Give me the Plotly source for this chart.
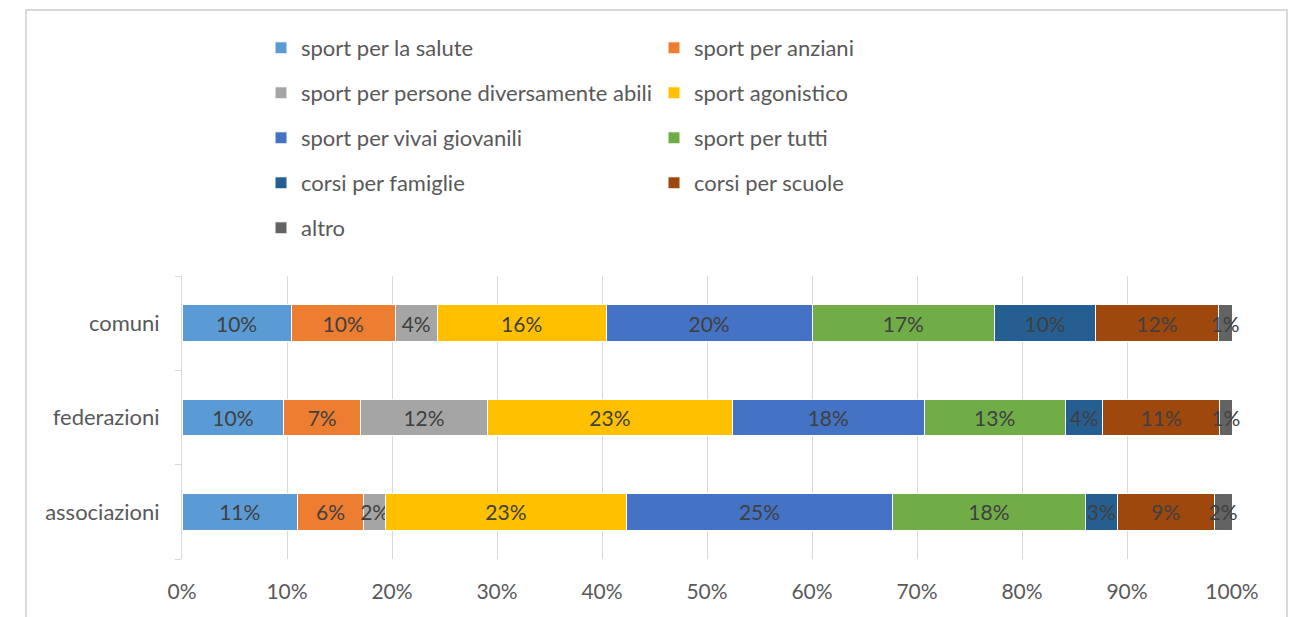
import plotly.graph_objects as go

categories = ["associazioni", "federazioni", "comuni"]
series_names = [
    "sport per la salute", "sport per anziani",
    "sport per persone diversamente abili", "sport agonistico",
    "sport per vivai giovanili", "sport per tutti",
    "corsi per famiglie", "corsi per scuole", "altro",
]
# values in percent, order: associazioni, federazioni, comuni
sport_salute = [11.0, 9.7, 10.4]
sport_anziani = [6.3, 7.3, 9.9]
sport_disabili = [2.1, 12.1, 4.0]
sport_agonistico = [22.9, 23.3, 16.1]
sport_vivai = [25.4, 18.3, 19.6]
sport_tutti = [18.3, 13.4, 17.4]
corsi_famiglie = [3.1, 3.6, 9.6]
corsi_scuole = [9.2, 11.1, 11.7]
altro = [1.7, 1.2, 1.3]
series_values = [sport_salute, sport_anziani, sport_disabili, sport_agonistico,
                 sport_vivai, sport_tutti, corsi_famiglie, corsi_scuole, altro]
colors = ["#5B9BD5", "#ED7D31", "#A5A5A5", "#FFC000", "#4472C4",
          "#70AD47", "#255E91", "#9E480E", "#636363"]
x_tickvals = [0, 10, 20, 30, 40, 50, 60, 70, 80, 90, 100]
x_ticktext = ["0%", "10%", "20%", "30%", "40%", "50%", "60%", "70%", "80%", "90%", "100%"]

FONT = "Lato"
W, H = 1294, 617
L, R, T, B = 182, 62, 276, 58
PW, PH = W - L - R, H - T - B

legend_names = ["legend", "legend2", "legend3", "legend4", "legend5"]

fig = go.Figure()
for i, (name, vals, col) in enumerate(zip(series_names, series_values, colors)):
    fig.add_trace(go.Bar(
        y=categories, x=vals, name=name, orientation="h",
        marker=dict(color=col, line=dict(color="white", width=1)),
        text=vals, texttemplate="%{x:.0f}%", textposition="inside",
        insidetextanchor="middle", textangle=0, constraintext="none",
        cliponaxis=False,
        textfont=dict(family=FONT, size=21, color="#404040"),
        legend=legend_names[i // 2], hoverinfo="skip",
    ))

layout_legends = {}
row_centers = [48, 93, 138, 183, 228]
for k, ln in enumerate(legend_names):
    layout_legends[ln] = dict(
        orientation="h", x=(261 - L) / PW, xanchor="left",
        y=1 + (T - row_centers[k]) / PH, yanchor="middle",
        entrywidth=348, entrywidthmode="pixels",
        font=dict(family=FONT, size=22, color="#595959"),
        bgcolor="rgba(0,0,0,0)", traceorder="normal",
    )

fig.update_layout(
    width=W, height=H,
    margin=dict(l=L, r=R, t=T, b=B, pad=0),
    barmode="stack", bargap=0.61,
    plot_bgcolor="white", paper_bgcolor="white",
    font=dict(family=FONT, size=21, color="#595959"),
    showlegend=True,
    xaxis=dict(range=[0, 100], tickvals=x_tickvals, ticktext=x_ticktext,
               showgrid=True, gridcolor="#D9D9D9", gridwidth=1,
               zeroline=False, showline=False, ticks="",
               ticklabelstandoff=18,
               tickfont=dict(family=FONT, size=21, color="#595959")),
    yaxis=dict(showgrid=False, showline=True, linecolor="#D9D9D9", linewidth=1,
               ticks="outside", ticklen=6, tickcolor="#D9D9D9",
               tickson="boundaries", ticklabelstandoff=17,
               tickfont=dict(family=FONT, size=22, color="#595959")),
    shapes=[dict(type="rect", xref="paper", yref="paper",
                 x0=(26 - L) / PW, x1=(1287 - L) / PW,
                 y0=-(H + 10 - T - PH) / PH, y1=1 + (T - 10) / PH,
                 line=dict(color="#D9D9D9", width=2), layer="below")],
    **layout_legends,
)

fig.write_html("out.html", config={"displayModeBar": False},
               post_script="document.body.style.margin='0';")
